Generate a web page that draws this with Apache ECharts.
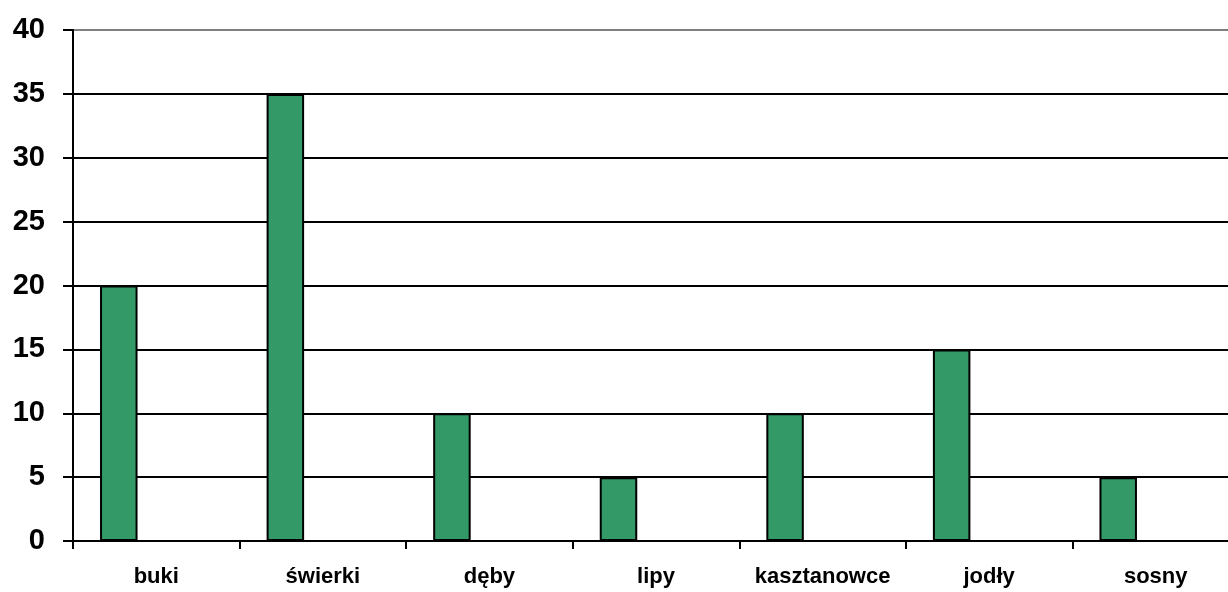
<!DOCTYPE html>
<html>
<head>
<meta charset="utf-8">
<script src="https://cdn.jsdelivr.net/npm/echarts@6/dist/echarts.min.js"></script>
<style>
html,body{margin:0;padding:0;background:#fff;overflow:hidden;}
#chart{width:1239px;height:592px;}
</style>
</head>
<body>
<div id="chart"></div>
<script>
const categories = ['buki', 'świerki', 'dęby', 'lipy', 'kasztanowce', 'jodły', 'sosny'];
const values = [20, 35, 10, 5, 10, 15, 5];
const emptySeries1 = [null, null, null, null, null, null, null];
const emptySeries2 = [null, null, null, null, null, null, null];
const yTicks = [0, 5, 10, 15, 20, 25, 30, 35, 40];

const chart = echarts.init(document.getElementById('chart'), null, {renderer: 'canvas'});
const barStyle = {color: '#339966', borderColor: '#000', borderWidth: 2};
const gridColors = yTicks.map((v, i) => i === yTicks.length - 1 ? '#808080' : '#000');
chart.setOption({
  animation: false,
  grid: {left: 73, right: 0, top: 30, bottom: 51, containLabel: false},
  xAxis: {
    type: 'category',
    data: categories,
    axisLine: {lineStyle: {color: '#000', width: 2}},
    axisTick: {show: true, interval: 0, alignWithLabel: false, length: 8, lineStyle: {color: '#000', width: 2}},
    axisLabel: {interval: 0, color: '#000', fontFamily: 'Liberation Sans, Arial, sans-serif', fontWeight: 'bold', fontSize: 22, margin: 25}
  },
  yAxis: {
    type: 'value',
    min: yTicks[0],
    max: yTicks[yTicks.length - 1],
    interval: 5,
    axisLine: {show: true, lineStyle: {color: '#000', width: 2}},
    axisTick: {show: true, length: 10, lineStyle: {color: '#000', width: 2}},
    axisLabel: {color: '#000', fontFamily: 'Liberation Sans, Arial, sans-serif', fontWeight: 'bold', fontSize: 29, margin: 28},
    splitLine: {lineStyle: {color: gridColors, width: 2}}
  },
  series: [
    {type: 'bar', data: values, barWidth: 37.5, barGap: '0%', itemStyle: barStyle},
    {type: 'bar', data: emptySeries1, barWidth: 37.5, barGap: '0%', itemStyle: barStyle},
    {type: 'bar', data: emptySeries2, barWidth: 37.5, barGap: '0%', itemStyle: barStyle}
  ]
});
</script>
</body>
</html>
